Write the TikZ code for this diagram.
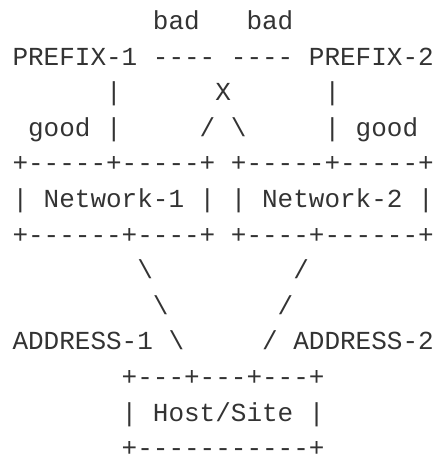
\documentclass[tikz,border=0pt]{standalone}
\usepackage{fontspec}
\setmonofont{Liberation Mono}
\definecolor{ink}{HTML}{333333}
\tikzset{
  asc/.style={anchor=base west, inner sep=0pt, outer sep=0pt, text=ink,
    font=\ttfamily\fontsize{19.5pt}{24pt}\selectfont}
}
\newcommand{\cx}[1]{12.5+15.6*#1}
\newcommand{\ry}[1]{29.5+35.6*#1}
\begin{document}
\begin{tikzpicture}[x=0.75pt,y=-0.75pt]
\useasboundingbox (0,0) rectangle (437,456);
% line 0
\node[asc] (bad1) at ({\cx{9}},{\ry{0}}) {bad};
\node[asc] (bad2) at ({\cx{15}},{\ry{0}}) {bad};
% line 1
\node[asc] (pre1) at ({\cx{0}},{\ry{1}}) {PREFIX-1};
\node[asc] (dash1) at ({\cx{9}},{\ry{1}}) {----};
\node[asc] (dash2) at ({\cx{14}},{\ry{1}}) {----};
\node[asc] (pre2) at ({\cx{19}},{\ry{1}}) {PREFIX-2};
% line 2
\node[asc] (bar1) at ({\cx{6}},{\ry{2}}) {|};
\node[asc] (cross) at ({\cx{13}},{\ry{2}}) {X};
\node[asc] (bar2) at ({\cx{20}},{\ry{2}}) {|};
% line 3
\node[asc] (good1) at ({\cx{1}},{\ry{3}}) {good};
\node[asc] (bar3) at ({\cx{6}},{\ry{3}}) {|};
\node[asc] (sl1) at ({\cx{12}},{\ry{3}}) {/};
\node[asc] (bs1) at ({\cx{14}},{\ry{3}}) {\textbackslash};
\node[asc] (bar4) at ({\cx{20}},{\ry{3}}) {|};
\node[asc] (good2) at ({\cx{22}},{\ry{3}}) {good};
% line 4-6 network boxes
\node[asc] (n1top) at ({\cx{0}},{\ry{4}}) {+-----+-----+};
\node[asc] (n2top) at ({\cx{14}},{\ry{4}}) {+-----+-----+};
\node[asc] (net1) at ({\cx{0}},{\ry{5}}) {| Network-1 |};
\node[asc] (net2) at ({\cx{14}},{\ry{5}}) {| Network-2 |};
\node[asc] (n1bot) at ({\cx{0}},{\ry{6}}) {+------+----+};
\node[asc] (n2bot) at ({\cx{14}},{\ry{6}}) {+----+------+};
% line 7-9
\node[asc] (bs2) at ({\cx{8}},{\ry{7}}) {\textbackslash};
\node[asc] (sl2) at ({\cx{18}},{\ry{7}}) {/};
\node[asc] (bs3) at ({\cx{9}},{\ry{8}}) {\textbackslash};
\node[asc] (sl3) at ({\cx{17}},{\ry{8}}) {/};
\node[asc] (addr1) at ({\cx{0}},{\ry{9}}) {ADDRESS-1};
\node[asc] (bs4) at ({\cx{10}},{\ry{9}}) {\textbackslash};
\node[asc] (sl4) at ({\cx{16}},{\ry{9}}) {/};
\node[asc] (addr2) at ({\cx{18}},{\ry{9}}) {ADDRESS-2};
% host box
\node[asc] (htop) at ({\cx{7}},{\ry{10}}) {+---+---+---+};
\node[asc] (host) at ({\cx{7}},{\ry{11}}) {| Host/Site |};
\node[asc] (hbot) at ({\cx{7}},{\ry{12}}) {+-----------+};
\end{tikzpicture}
\end{document}
